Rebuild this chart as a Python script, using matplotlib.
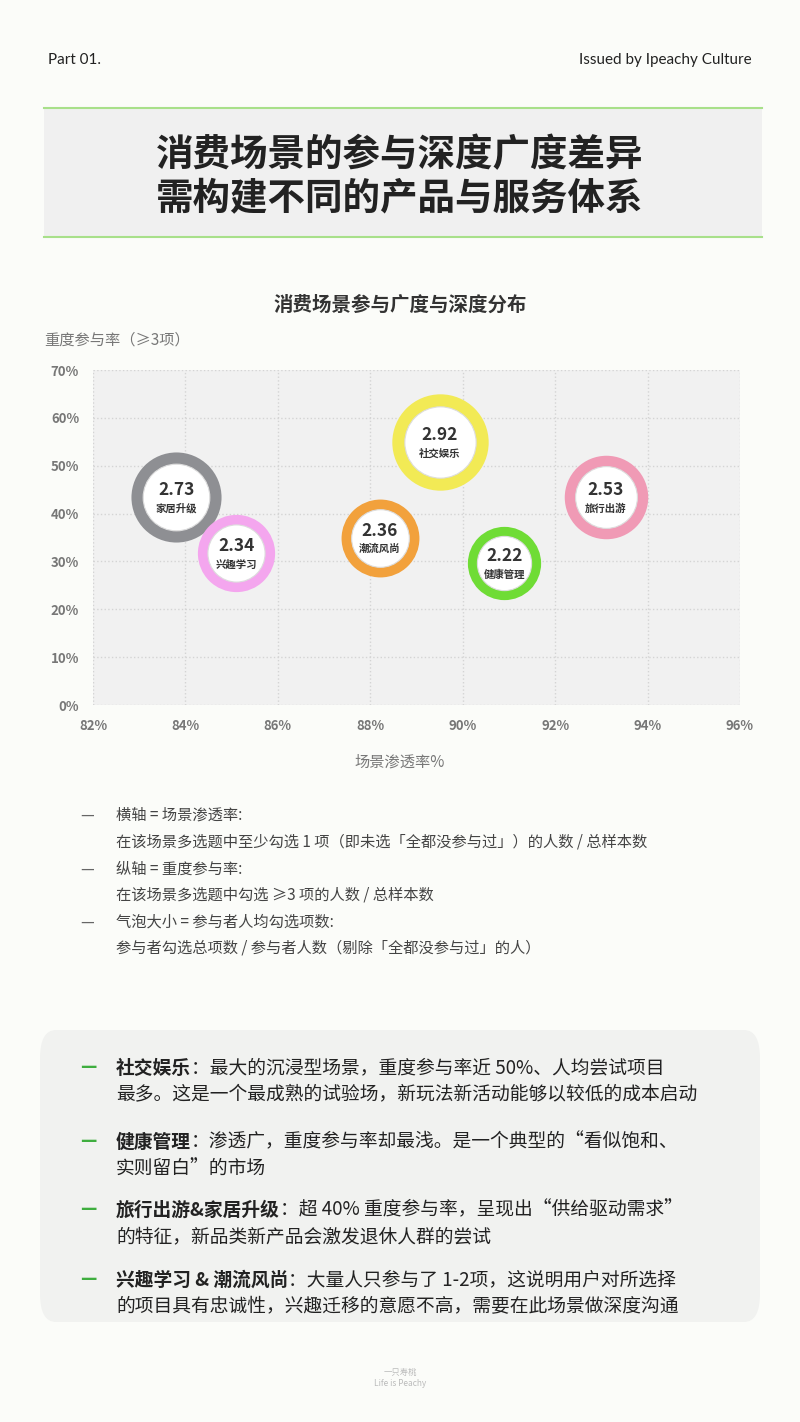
import matplotlib
matplotlib.use("Agg")
import matplotlib.pyplot as plt
from matplotlib.patches import FancyBboxPatch, Rectangle

plt.rcParams['font.family'] = ['Noto Sans CJK SC', 'DejaVu Sans']

categories = ['家居升级', '兴趣学习', '社交娱乐', '潮流风尚', '健康管理', '旅行出游']
penetration = [83.8, 85.1, 89.5, 88.2, 90.9, 93.1]
heavy_rate = [43.4, 31.7, 54.9, 34.9, 29.6, 43.4]
avg_items = [2.73, 2.34, 2.92, 2.36, 2.22, 2.53]
ring_colors = ['#8e8f93', '#f4a6ee', '#f2ea55', '#f2a13c', '#6fdc35', '#f09ab5']
x_ticks = [82, 84, 86, 88, 90, 92, 94, 96]
y_ticks = [0, 10, 20, 30, 40, 50, 60, 70]

W, H = 800, 1422
fig = plt.figure(figsize=(8, 14.22), dpi=100)
fig.patch.set_facecolor('#fbfcf9')

def fy(py): return 1 - py / H
def fx(px): return px / W

# header
fig.text(fx(48), fy(60), 'Part 01.', fontsize=11, color='#222', va='center', family=['Lato', 'DejaVu Sans'])
fig.text(fx(752), fy(60), 'Issued by Ipeachy Culture', fontsize=11, color='#222', va='center', ha='right', family=['Lato', 'DejaVu Sans'])
fig.patches.append(Rectangle((fx(44), fy(237)), fx(718), (237-108)/H, transform=fig.transFigure, facecolor='#f0f0f0', edgecolor='none'))
for yy in (108, 237):
    fig.add_artist(plt.Line2D([fx(44), fx(762)], [fy(yy), fy(yy)], color='#a8e08a', lw=1.5))
fig.text(0.5, fy(155), '消费场景的参与深度广度差异', fontsize=27, ha='center', va='center', color='#222', weight='bold')
fig.text(0.5, fy(198), '需构建不同的产品与服务体系', fontsize=27, ha='center', va='center', color='#222', weight='bold')

fig.text(0.5, fy(305), '消费场景参与广度与深度分布', fontsize=14, ha='center', va='center', color='#333', weight='bold')
fig.text(fx(44), fy(340), '重度参与率（≥3项）', fontsize=11, va='center', color='#777')

ax = fig.add_axes([fx(93), fy(705), fx(740-93), (705-370)/H])
ax.set_facecolor('#f1f1f1')
ax.set_xlim(82, 96)
ax.set_ylim(0, 70)
ax.set_xticks(x_ticks)
ax.set_yticks(y_ticks)
ax.set_xticklabels([f'{t}%' for t in x_ticks], fontsize=9.5, color='#777', weight='bold')
ax.set_yticklabels([f'{t}%' for t in y_ticks], fontsize=9.5, color='#777', weight='bold')
ax.tick_params(length=0, pad=10)
ax.grid(True, color='#d4d4d4', ls=':', lw=1)
ax.set_axisbelow(True)
for s in ax.spines.values():
    s.set_visible(False)

for x, y, v, c, name in zip(penetration, heavy_rate, avg_items, ring_colors, categories):
    r_pt = 16.5 * v * 0.72
    ax.scatter([x], [y], s=(2 * r_pt) ** 2, color=c, zorder=3, linewidths=0)
    ax.scatter([x], [y], s=(2 * r_pt * 0.74) ** 2, color='white', zorder=4, linewidths=0.8, edgecolors='#dddddd')
    ax.annotate(f'{v:.2f}', (x, y), xytext=(0, 5), textcoords='offset points', ha='center', va='center',
                fontsize=12.5, weight='bold', color='#333', zorder=5)
    ax.annotate(name, (x, y), xytext=(0, -8), textcoords='offset points', ha='center', va='center',
                fontsize=7.5, weight='bold', color='#333', zorder=5)

fig.text(0.5, fy(762), '场景渗透率%', fontsize=11, ha='center', va='center', color='#777')

notes = [
    (815, '—', '横轴 = 场景渗透率:'),
    (842, '', '在该场景多选题中至少勾选 1 项（即未选「全都没参与过」）的人数 / 总样本数'),
    (869, '—', '纵轴 = 重度参与率:'),
    (895, '', '在该场景多选题中勾选 ≥3 项的人数 / 总样本数'),
    (922, '—', '气泡大小 = 参与者人均勾选项数:'),
    (948, '', '参与者勾选总项数 / 参与者人数（剔除「全都没参与过」的人）'),
]
for yy, d, t in notes:
    if d:
        fig.text(fx(80), fy(yy), d, fontsize=11, va='center', color='#666')
    fig.text(fx(116), fy(yy), t, fontsize=11, va='center', color='#444')

fig.patches.append(FancyBboxPatch((fx(40), fy(1322)), fx(720), (1322-1030)/H, boxstyle='round,pad=0,rounding_size=0.02',
                                  transform=fig.transFigure, facecolor='#f1f2f0', edgecolor='none'))
items = [
    (1068, '社交娱乐', '：最大的沉浸型场景，重度参与率近 50%、人均尝试项目', '最多。这是一个最成熟的试验场，新玩法新活动能够以较低的成本启动'),
    (1142, '健康管理', '：渗透广，重度参与率却最浅。是一个典型的“看似饱和、', '实则留白”的市场'),
    (1210, '旅行出游&家居升级', '：超 40% 重度参与率，呈现出“供给驱动需求”', '的特征，新品类新产品会激发退休人群的尝试'),
    (1280, '兴趣学习 & 潮流风尚', '：大量人只参与了 1-2项，这说明用户对所选择', '的项目具有忠诚性，兴趣迁移的意愿不高，需要在此场景做深度沟通'),
]
for yy, b, r1, l2 in items:
    fig.text(fx(80), fy(yy), '—', fontsize=13, va='center', color='#3fae3f', weight='bold')
    t = fig.text(fx(116), fy(yy), b, fontsize=13.5, va='center', color='#222', weight='bold')
    fig.canvas.draw()
    bb = t.get_window_extent()
    fig.text(bb.x1 / W, fy(yy), r1, fontsize=13.5, va='center', color='#222')
    fig.text(fx(116), fy(yy + 27), l2, fontsize=13.5, va='center', color='#222')

fig.text(0.5, fy(1378), '一只寿桃\nLife is Peachy', fontsize=6, ha='center', va='center', color='#bbb')

fig.savefig('out.png', dpi=100, facecolor=fig.get_facecolor())
